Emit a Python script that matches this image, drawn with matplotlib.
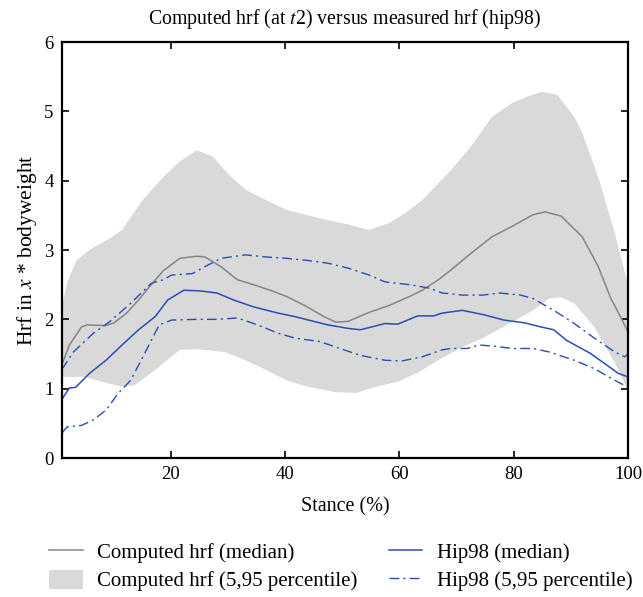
import matplotlib

matplotlib.use("Agg")
import matplotlib.pyplot as plt

plt.rcParams["font.family"] = ["Liberation Serif", "DejaVu Serif"]
plt.rcParams["mathtext.fontset"] = "stix"

# Computed hrf, 5 and 95 percentile band (grey area)
band_hi_x = [1, 2, 3.5, 5.8, 9.4, 11.5, 15.1, 18.7, 21.5, 24.5, 27.4, 30, 33.1, 36.7, 40.3,
             44, 47.5, 51, 54.7, 58.2, 61, 64, 69, 72.5, 76.2, 79.7, 82, 84.8, 87.6,
             90.6, 92, 94.8, 97.7, 100]
band_hi_y = [2.2, 2.55, 2.85, 3.0, 3.17, 3.29, 3.72, 4.05, 4.27, 4.44, 4.35, 4.1, 3.87, 3.72,
             3.58, 3.5, 3.43, 3.37, 3.29, 3.39, 3.53, 3.72, 4.15, 4.49, 4.92, 5.12, 5.2, 5.28,
             5.24, 4.92, 4.69, 4.05, 3.24, 2.5]
band_lo_x = [1, 5.1, 7.9, 11.5, 13.7, 17.3, 21.6, 24.5, 29.5, 33.1, 36.7, 40.3, 43.9,
             48.9, 52.5, 56, 59.7, 63.2, 66.8, 71, 74.6, 79.7, 83.4, 86.2, 88.3, 90.6,
             94.1, 97.7, 100]
band_lo_y = [1.17, 1.17, 1.10, 1.03, 1.05, 1.27, 1.56, 1.57, 1.53, 1.41, 1.27, 1.12, 1.03,
             0.95, 0.94, 1.03, 1.10, 1.23, 1.41, 1.60, 1.73, 1.96, 2.13, 2.30, 2.32, 2.23,
             1.89, 1.37, 0.98]

# Computed hrf, median
comp_x = [1, 2.3, 4.4, 5.4, 8.6, 10.1, 12.3, 14.4, 16.6, 18.7, 21.6, 24.5, 26, 28.8,
          31.7, 34.5, 37.4, 40.3, 43.9, 46.8, 48.9, 51, 54.7, 58.2, 61.8, 64, 66.8, 69,
          72.5, 76.2, 79.7, 83.4, 85.5, 88.3, 92, 94.8, 97, 98.3, 100]
comp_y = [1.35, 1.63, 1.89, 1.92, 1.91, 1.95, 2.09, 2.28, 2.5, 2.7, 2.88, 2.91, 2.90, 2.76,
          2.57, 2.50, 2.42, 2.33, 2.18, 2.04, 1.96, 1.97, 2.10, 2.20, 2.33, 2.42, 2.57, 2.71,
          2.95, 3.19, 3.34, 3.51, 3.55, 3.49, 3.19, 2.76, 2.3, 2.1, 1.82]

# Hip98, median
hip_x = [1, 2.3, 3.4, 5.8, 8.7, 11.5, 14.4, 17.3, 19.5, 22.3, 25.2, 28.1, 31, 34.5,
         38.8, 41.7, 47.5, 51, 53.2, 57.5, 59.7, 63.2, 66, 67.5, 71, 74.6, 78.3, 81.9,
         84.8, 87, 89.2, 93.4, 96.3, 98.3, 100]
hip_y = [0.85, 1.01, 1.02, 1.22, 1.41, 1.63, 1.85, 2.04, 2.28, 2.42, 2.41, 2.38, 2.28, 2.18,
         2.09, 2.04, 1.92, 1.87, 1.85, 1.94, 1.93, 2.05, 2.05, 2.09, 2.13, 2.07, 1.99, 1.95,
         1.89, 1.85, 1.70, 1.51, 1.34, 1.22, 1.17]

# Hip98, 5 and 95 percentile
hip_hi_x = [1, 3, 6.5, 9.4, 13, 16.6, 18.7, 20.2, 23.8, 26, 28.8, 33.1, 36.7, 40.3,
            43.9, 47.5, 51, 54.7, 57.5, 61.8, 65.3, 67.5, 71, 74.6, 77.6, 81.2, 83.4, 87,
            90.6, 94.1, 97.7, 99.4, 100]
hip_hi_y = [1.28, 1.53, 1.80, 1.97, 2.23, 2.52, 2.57, 2.64, 2.66, 2.76, 2.88, 2.93, 2.90, 2.88,
            2.85, 2.81, 2.74, 2.64, 2.54, 2.50, 2.45, 2.38, 2.35, 2.35, 2.38, 2.35, 2.30, 2.13,
            1.94, 1.73, 1.53, 1.46, 1.50]
hip_lo_x = [1, 1.9, 4.4, 6.5, 8.7, 10.8, 13, 15.1, 18, 20.2, 24.5, 28.1, 31.7, 35.2,
            38.8, 41.7, 46.1, 49.6, 53.2, 57.5, 60.4, 64, 67.5, 69, 71.8, 74, 76.9, 79.7,
            83.4, 86.2, 90.6, 94.1, 97.7, 100]
hip_lo_y = [0.36, 0.45, 0.47, 0.55, 0.69, 0.93, 1.12, 1.45, 1.92, 1.99, 2.0, 2.0, 2.02, 1.92,
            1.80, 1.73, 1.68, 1.58, 1.48, 1.41, 1.40, 1.46, 1.56, 1.58, 1.58, 1.63, 1.61, 1.58,
            1.58, 1.53, 1.41, 1.29, 1.12, 1.02]

GREY_FILL = "#d9d9d9"
GREY_LINE = "#858585"
BLUE = "#2b4db3"
DASHDOT = (0, (7, 3, 1.5, 3))

fig = plt.figure(figsize=(6.43, 5.97), dpi=100)
ax = fig.add_axes([0.0964, 0.2328, 0.8803, 0.6968])

ax.fill(band_hi_x + band_lo_x[::-1], band_hi_y + band_lo_y[::-1],
        color=GREY_FILL, lw=0, label="Computed hrf (5,95 percentile)", zorder=1)
ax.plot(comp_x, comp_y, color=GREY_LINE, lw=1.1, label="Computed hrf (median)", zorder=3)
ax.plot(hip_x, hip_y, color=BLUE, lw=1.1, label="Hip98 (median)", zorder=3)
ax.plot(hip_hi_x, hip_hi_y, color=BLUE, lw=1.0, ls=DASHDOT,
        label="Hip98 (5,95 percentile)", zorder=3)
ax.plot(hip_lo_x, hip_lo_y, color=BLUE, lw=1.0, ls=DASHDOT, zorder=3)

ax.set_xlim(1, 100)
ax.set_ylim(0, 6)
ax.set_xticks([20, 40, 60, 80, 100])
ax.set_yticks([0, 1, 2, 3, 4, 5, 6])
ax.tick_params(direction="in", top=True, right=True, length=5, width=1.2,
               labelsize=13.5, pad=6)
ax.set_axisbelow(False)
for s in ax.spines.values():
    s.set_linewidth(1.6)
    s.set_zorder(5)

ax.set_title(r"Computed hrf (at $t$2) versus measured hrf (hip98)", fontsize=14.3, pad=13)
ax.set_xlabel("Stance (%)", fontsize=14.5, labelpad=10)
ax.set_ylabel(r"Hrf in $x$ * bodyweight", fontsize=15.5, labelpad=4)

h, l = ax.get_legend_handles_labels()
order = [1, 0, 2, 3]
fig.legend([h[i] for i in order], [l[i] for i in order], ncol=2, loc="lower center",
           bbox_to_anchor=(0.53, -0.022), frameon=False, fontsize=15, handlelength=1.6,
           handleheight=1.0, columnspacing=1.5, labelspacing=0.32, handletextpad=0.7)

fig.savefig("out.png", dpi=100)
